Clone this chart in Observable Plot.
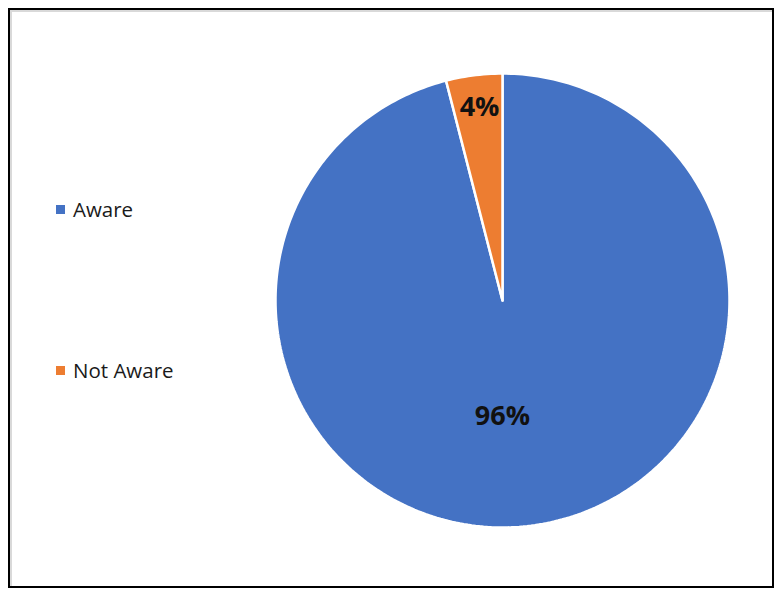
<!DOCTYPE html>
<html>
<head>
<meta charset="utf-8">
<script src="https://cdn.jsdelivr.net/npm/d3@7"></script>
<script src="https://cdn.jsdelivr.net/npm/@observablehq/plot@0.6"></script>
<style>
  html, body { margin: 0; padding: 0; background: #fff; }
  #wrap { position: relative; width: 776px; height: 590px; overflow: hidden; font-family: "Open Sans", "Noto Sans", sans-serif; }
  #frame { position: absolute; left: 8px; top: 8px; width: 762px; height: 576px; border: 2px solid #000; box-shadow: inset 2px 2px 0 #d9d9d9; box-sizing: content-box; }
  #chart { position: absolute; left: 0; top: 0; }
  .leg { position: absolute; left: 56px; display: flex; align-items: center; font-size: 20.5px; color: #1a1a1a; }
  .leg .sw { width: 9px; height: 9px; margin-right: 8px; }
</style>
</head>
<body>
<div id="wrap">
  <div id="frame"></div>
  <div id="chart"></div>
  <div id="legend"></div>
</div>
<script>
const categories = ["Aware", "Not Aware"];
const values = [96, 4];
const labels = ["96%", "4%"];
const colors = ["#4472C4", "#ED7D31"];

// layout
const W = 776, H = 590;
const cx = 502, cy = 300, R = 227;
const labelRadius = [0.51, 0.855];
const labelAngleShift = [0.126, 0.007]; // radians, shift from slice mid-angle

// slice angles: start at 12 o'clock, clockwise (Excel style)
const total = d3.sum(values);
let acc = 0;
const slices = categories.map((c, i) => {
  const a0 = acc / total * 2 * Math.PI;
  acc += values[i];
  const a1 = acc / total * 2 * Math.PI;
  return { category: c, value: values[i], label: labels[i], a0, a1, i };
});

const pts = [];
for (const s of slices) {
  pts.push({ category: s.category, x: 0, y: 0 });
  const n = Math.max(4, Math.ceil((s.a1 - s.a0) / (Math.PI / 180)));
  for (let k = 0; k <= n; k++) {
    const a = s.a0 + (s.a1 - s.a0) * k / n;
    pts.push({ category: s.category, x: Math.sin(a), y: Math.cos(a) });
  }
  pts.push({ category: s.category, x: 0, y: 0 });
}

const labelPts = slices.map(s => {
  const m = (s.a0 + s.a1) / 2 + labelAngleShift[s.i];
  const r = labelRadius[s.i];
  return { label: s.label, x: r * Math.sin(m), y: r * Math.cos(m) };
});

const plot = Plot.plot({
  width: W, height: H,
  margin: 0,
  x: { domain: [-1, 1], range: [cx - R, cx + R], axis: null },
  y: { domain: [-1, 1], range: [cy + R, cy - R], axis: null },
  color: { domain: categories, range: colors },
  style: { background: "transparent" },
  marks: [
    Plot.line(pts, { x: "x", y: "y", z: "category", fill: "category", stroke: "white", strokeWidth: 2.5, strokeLinejoin: "miter", curve: "linear" }),
    Plot.text(labelPts, { x: "x", y: "y", text: "label", fontSize: 27, fontWeight: "bold", fill: "#111", fontFamily: "Open Sans, sans-serif" })
  ]
});
document.getElementById("chart").appendChild(plot);

// legend
const legendTops = [209, 370];
const legend = document.getElementById("legend");
categories.forEach((c, i) => {
  const d = document.createElement("div");
  d.className = "leg";
  d.style.top = (legendTops[i] - 14) + "px";
  d.innerHTML = `<span class="sw" style="background:${colors[i]}"></span><span>${c}</span>`;
  legend.appendChild(d);
});
</script>
</body>
</html>
